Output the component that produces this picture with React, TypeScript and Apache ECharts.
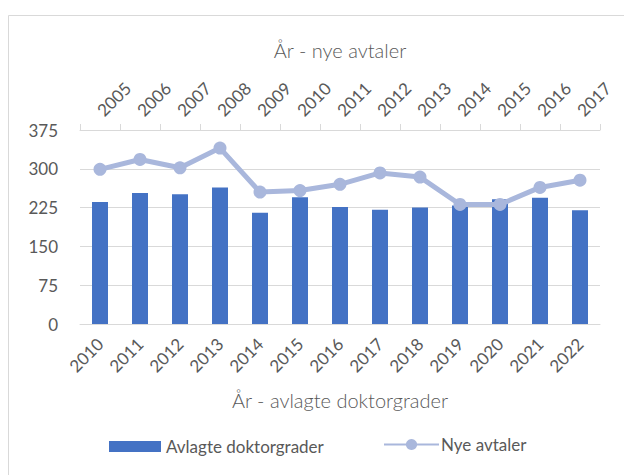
import React, { useEffect, useRef } from "react";
import * as echarts from "echarts";

const barYears = ["2010", "2011", "2012", "2013", "2014", "2015", "2016", "2017", "2018", "2019", "2020", "2021", "2022"];
const lineYears = ["2005", "2006", "2007", "2008", "2009", "2010", "2011", "2012", "2013", "2014", "2015", "2016", "2017"];
const doktorgrader = [236, 253, 251, 264, 215, 245, 226, 221, 225, 229, 241, 244, 220];
const nyeAvtaler = [299, 318, 302, 340, 255, 258, 270, 292, 284, 231, 231, 264, 278];
const yTicks = { min: 0, max: 375, interval: 75 };

const FONT = "Lato, 'Open Sans', sans-serif";
const TXT = "#595959";
const GRID = "#d9d9d9";
const BAR = "#4472c4";
const LINE = "#a9b7dc";

export default function App() {
  const ref = useRef<HTMLDivElement>(null);
  useEffect(() => {
    if (!ref.current) return;
    const chart = echarts.init(ref.current, undefined, { renderer: "svg" });
    chart.setOption({
      animation: false,
      backgroundColor: "#ffffff",
      textStyle: { fontFamily: FONT, color: TXT, fontWeight: 400 },
      grid: { left: 80, right: 24, top: 130, bottom: 151 },
      graphic: [
        {
          type: "rect",
          shape: { x: 8.5, y: 15.5, width: 700, height: 600 },
          style: { fill: "none", stroke: GRID, lineWidth: 1 },
          silent: true,
        },
      ],
      legend: [
        {
          left: 109,
          top: 438,
          itemWidth: 52,
          itemHeight: 11,
          itemGap: 0,
          data: [{ name: "Avlagte doktorgrader", icon: "rect" }],
          textStyle: { fontFamily: FONT, fontSize: 17, color: TXT },
          padding: 0,
        },
        {
          left: 383,
          top: 436,
          itemWidth: 55,
          itemHeight: 14,
          data: ["Nye avtaler"],
          textStyle: { fontFamily: FONT, fontSize: 17, color: TXT, padding: [0, 0, 0, -3] },
          padding: 0,
        },
      ],
      xAxis: [
        {
          type: "category",
          position: "bottom",
          data: barYears,
          name: "År - avlagte doktorgrader",
          nameLocation: "middle",
          nameGap: 66,
          nameTextStyle: { fontFamily: FONT, fontSize: 20, color: TXT, fontWeight: 300 },
          axisLine: { show: true, lineStyle: { color: GRID, width: 1 } },
          axisTick: { show: false },
          axisLabel: { rotate: 45, fontFamily: FONT, fontSize: 17, color: TXT, margin: 17, interval: 0 },
        },
        {
          type: "category",
          position: "top",
          data: lineYears,
          name: "År - nye avtaler",
          nameLocation: "middle",
          nameGap: 70,
          nameTextStyle: { fontFamily: FONT, fontSize: 20, color: TXT, fontWeight: 300 },
          axisLine: { show: true, lineStyle: { color: GRID, width: 1 } },
          axisTick: { show: true, length: 6, lineStyle: { color: GRID } },
          axisLabel: { rotate: -45, fontFamily: FONT, fontSize: 17, color: TXT, margin: 17, interval: 0 },
        },
      ],
      yAxis: {
        type: "value",
        min: yTicks.min,
        max: yTicks.max,
        interval: yTicks.interval,
        axisLine: { show: false },
        axisTick: { show: false },
        axisLabel: { fontFamily: FONT, fontSize: 17, color: TXT, margin: 22 },
        splitLine: { lineStyle: { color: GRID, width: 1 } },
      },
      series: [
        {
          name: "Avlagte doktorgrader",
          type: "bar",
          xAxisIndex: 0,
          data: doktorgrader,
          barWidth: 16,
          itemStyle: { color: BAR },
        },
        {
          name: "Nye avtaler",
          type: "line",
          xAxisIndex: 1,
          data: nyeAvtaler,
          symbol: "circle",
          symbolSize: 13,
          lineStyle: { color: LINE, width: 5 },
          itemStyle: { color: LINE },
        },
      ],
    });
    return () => chart.dispose();
  }, []);
  return (
    <div
      ref={ref}
      style={{ position: "absolute", left: 0, top: 0, width: 624, height: 475 }}
    />
  );
}
